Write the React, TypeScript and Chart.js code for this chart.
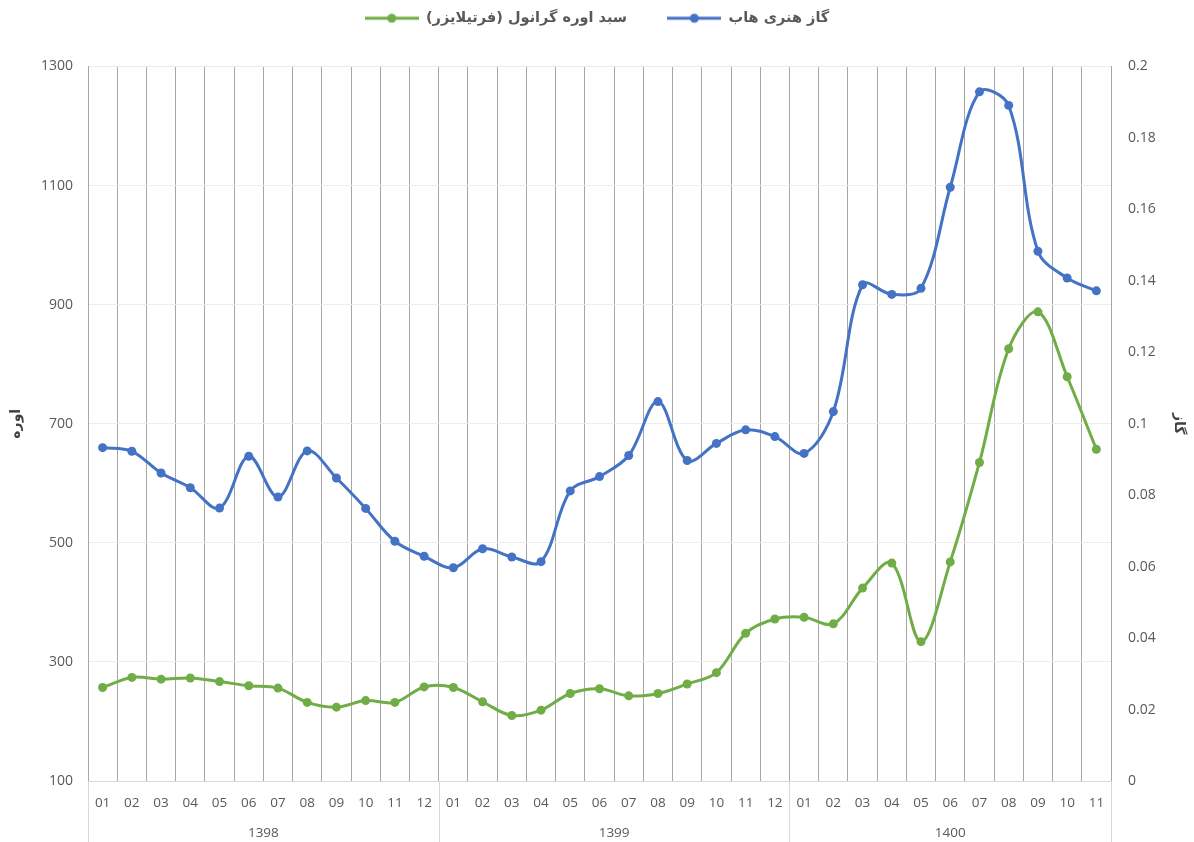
import React, { useEffect, useRef } from 'react';
import { Chart, registerables } from 'chart.js';

Chart.register(...registerables);

// ---- data ----
const monthLabels = [
  '01', '02', '03', '04', '05', '06', '07', '08', '09', '10', '11', '12',
  '01', '02', '03', '04', '05', '06', '07', '08', '09', '10', '11', '12',
  '01', '02', '03', '04', '05', '06', '07', '08', '09', '10', '11',
];
const yearLabels = ['1398', '1399', '1400'];
const monthsPerYear = [12, 12, 11];

const ureaName = 'سبد اوره گرانول (فرتیلایزر)';
const gasName = 'گاز هنری هاب';

const ureaValues = [
  257, 274, 271, 273, 267, 260, 256, 232, 224, 235, 232, 258,
  257, 233, 210, 219, 247, 255, 243, 247, 263, 282, 348, 372,
  375, 364, 424, 466, 334, 468, 635, 826, 888, 779, 657,
];
const gasValues = [
  0.0933, 0.0923, 0.0862, 0.0821, 0.0764, 0.0909, 0.0795, 0.0924, 0.0848, 0.0763, 0.0671, 0.0629,
  0.0597, 0.065, 0.0627, 0.0614, 0.0812, 0.0852, 0.0911, 0.1062, 0.0897, 0.0945, 0.0983, 0.0964,
  0.0917, 0.1034, 0.1389, 0.1362, 0.1379, 0.1662, 0.1929, 0.1891, 0.1483, 0.1408, 0.1372,
];

const ureaAxis = { min: 100, max: 1300, step: 200, title: 'اوره' };
const gasAxis = { min: 0, max: 0.2, step: 0.02, title: 'گاز' };

const GREEN = '#70AD47';
const BLUE = '#4472C4';
const TEXT = '#595959';
const TICK_FONT = "'Open Sans', 'DejaVu Sans', sans-serif";
const FA_FONT = "'DejaVu Sans', sans-serif";

function makeMarker(color: string): HTMLCanvasElement {
  const c = document.createElement('canvas');
  c.width = 54;
  c.height = 12;
  const ctx = c.getContext('2d')!;
  ctx.strokeStyle = color;
  ctx.lineWidth = 3;
  ctx.beginPath();
  ctx.moveTo(0, 6);
  ctx.lineTo(54, 6);
  ctx.stroke();
  ctx.fillStyle = color;
  ctx.beginPath();
  ctx.arc(27, 6, 4.5, 0, Math.PI * 2);
  ctx.fill();
  return c;
}

const groupPlugin = {
  id: 'groupLabels',
  afterDraw(chart: any) {
    const xs = chart.scales.x;
    const area = chart.chartArea;
    const ctx = chart.ctx;
    const half = (xs.getPixelForValue(1) - xs.getPixelForValue(0)) / 2;
    const boundary = (k: number) => xs.getPixelForValue(k) - half;
    ctx.save();
    ctx.strokeStyle = '#d9d9d9';
    ctx.lineWidth = 1;
    let start = 0;
    const edges = [0];
    monthsPerYear.forEach((n) => {
      start += n;
      edges.push(start);
    });
    edges.forEach((k) => {
      const x = Math.round(boundary(k)) + 0.5;
      ctx.beginPath();
      ctx.moveTo(x, area.bottom);
      ctx.lineTo(x, chart.height);
      ctx.stroke();
    });
    ctx.fillStyle = TEXT;
    ctx.font = `13.5px ${TICK_FONT}`;
    ctx.textAlign = 'center';
    ctx.textBaseline = 'middle';
    yearLabels.forEach((y, i) => {
      const x = (boundary(edges[i]) + boundary(edges[i + 1])) / 2;
      ctx.fillText(y, x, 833);
    });
    ctx.restore();
  },
};

export default function App() {
  const ref = useRef<HTMLCanvasElement | null>(null);

  useEffect(() => {
    if (!ref.current) return;
    const markers = [makeMarker(GREEN), makeMarker(BLUE)];
    const chart = new Chart(ref.current, {
      type: 'line',
      data: {
        labels: monthLabels,
        datasets: [
          {
            label: ureaName,
            data: ureaValues,
            yAxisID: 'y',
            borderColor: GREEN,
            backgroundColor: GREEN,
            borderWidth: 3,
            pointRadius: 4.5,
            pointBorderWidth: 0,
            pointBackgroundColor: GREEN,
            tension: 0.35,
          },
          {
            label: gasName,
            data: gasValues,
            yAxisID: 'y1',
            borderColor: BLUE,
            backgroundColor: BLUE,
            borderWidth: 3,
            pointRadius: 4.5,
            pointBorderWidth: 0,
            pointBackgroundColor: BLUE,
            tension: 0.35,
          },
        ],
      },
      options: {
        animation: false,
        responsive: true,
        maintainAspectRatio: false,
        layout: { padding: { top: 1, left: 0, right: 0, bottom: 0 } },
        plugins: {
          tooltip: { enabled: false },
          title: {
            display: true,
            text: ' ',
            font: { size: 1, lineHeight: 1 },
            padding: { top: 0, bottom: 30 },
          },
          legend: {
            position: 'top',
            weight: 3000,
            labels: {
              usePointStyle: true,
              pointStyleWidth: 54,
              padding: 10,
              color: TEXT,
              font: { family: FA_FONT, size: 14.5, weight: 'bold' },
              generateLabels: (c: any) => {
                const items = (Chart.defaults.plugins.legend.labels as any).generateLabels(c);
                return items.map((it: any, i: number) => ({
                  ...it,
                  pointStyle: markers[i],
                  text: it.text + '\u200F' + (i === 0 ? '      ' : ''),
                }));
              },
            },
          },
        },
        scales: {
          x: {
            offset: true,
            grid: { offset: true, color: '#a6a6a6', lineWidth: 1, drawTicks: false },
            border: { color: '#d9d9d9' },
            ticks: {
              color: TEXT,
              font: { family: TICK_FONT, size: 13.5 },
              padding: 14,
              maxRotation: 0,
              autoSkip: false,
            },
            afterFit: (s: any) => {
              s.height = 61;
            },
          },
          y: {
            position: 'left',
            min: ureaAxis.min,
            max: ureaAxis.max,
            grid: { color: '#ececec', drawTicks: false },
            border: { color: '#a6a6a6' },
            ticks: {
              stepSize: ureaAxis.step,
              color: TEXT,
              font: { family: TICK_FONT, size: 14 },
              padding: 15,
              callback: (v: any) => String(v),
            },
            title: {
              display: true,
              text: ureaAxis.title,
              color: '#404040',
              font: { family: FA_FONT, size: 14, weight: 'bold' },
              padding: { top: 8, bottom: 0 },
            },
            afterFit: (s: any) => {
              s.width = 88;
            },
          },
          y1: {
            position: 'right',
            min: gasAxis.min,
            max: gasAxis.max,
            grid: { display: false, drawTicks: false },
            border: { color: '#a6a6a6' },
            ticks: {
              stepSize: gasAxis.step,
              color: TEXT,
              font: { family: TICK_FONT, size: 14 },
              padding: 17,
              callback: (v: any) => String(Math.round(v * 100) / 100),
            },
            title: {
              display: true,
              text: gasAxis.title,
              color: '#404040',
              font: { family: FA_FONT, size: 14, weight: 'bold' },
              padding: { top: 7, bottom: 0 },
            },
            afterFit: (s: any) => {
              s.width = 83;
            },
          },
        },
      } as any,
      plugins: [groupPlugin],
    });
    return () => chart.destroy();
  }, []);

  return (
    <div style={{ position: 'fixed', left: 0, top: 0, width: 1194, height: 842, background: '#fff' }}>
      <canvas ref={ref} />
    </div>
  );
}
